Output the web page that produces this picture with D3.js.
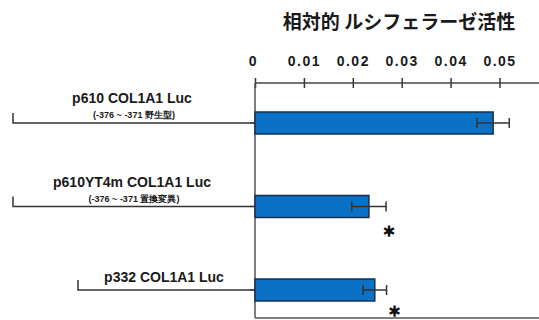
<!DOCTYPE html>
<html>
<head>
<meta charset="utf-8">
<script src="https://cdn.jsdelivr.net/npm/d3@7"></script>
<style>
  body { margin: 0; background: #fff; }
  svg { display: block; }
  text { font-family: "Liberation Sans", Arial, sans-serif; fill: #1a1a1a; }
  .title, .sig { font-family: "Noto Sans CJK JP", sans-serif; font-weight: bold; }
</style>
</head>
<body>
<svg width="539" height="320"></svg>
<script>
var constructs = ["p610 COL1A1 Luc", "p610YT4m COL1A1 Luc", "p332 COL1A1 Luc"];
var subtitles = ["(-376 ~ -371 野生型)", "(-376 ~ -371 置換変異)", ""];
var promoterLength = [610, 610, 332];
var values = [0.0487, 0.0233, 0.0245];
var errors = [0.0033, 0.0035, 0.0024];
var significant = [false, true, true];
var tickValues = [0, 0.01, 0.02, 0.03, 0.04, 0.05];
var tickLabels = ["0", "0.01", "0.02", "0.03", "0.04", "0.05"];

var svg = d3.select("svg"),
    width = +svg.attr("width"),
    height = +svg.attr("height");

var axisY = 83, bottomY = 318;

var x = d3.scaleLinear().domain([0, 0.05]).range([255, 499.5]);
var y = d3.scalePoint().domain(constructs).range([123, 290]);
// construct map: promoter length -> left end of the line
var px = d3.scaleLinear().domain([0, 610]).range([155.6, 13]);

var data = constructs.map(function (c, i) {
  return { name: c, sub: subtitles[i], len: promoterLength[i], value: values[i], err: errors[i], sig: significant[i] };
});

// title
svg.append("text").attr("class", "title")
  .attr("x", 399).attr("y", 29)
  .attr("text-anchor", "middle")
  .style("font-size", "19px")
  .text("相対的 ルシフェラーゼ活性");

// top axis
var axis = svg.append("g").attr("transform", "translate(0," + axisY + ")")
  .call(d3.axisTop(x).tickValues(tickValues).tickFormat(function (d, i) { return tickLabels[i]; }).tickSizeOuter(0));
axis.select(".domain").remove();
axis.selectAll(".tick line").attr("y1", -5).attr("y2", 5).attr("stroke", "#333").attr("stroke-width", 1.5);
axis.selectAll(".tick text").attr("y", -17).attr("dy", 0)
  .style("font-size", "14px").style("font-weight", "bold").style("letter-spacing", "1.5px")
  .attr("fill", "#1a1a1a");
axis.select(".tick text").attr("x", -2);

svg.append("line").attr("x1", x(0)).attr("x2", width).attr("y1", axisY).attr("y2", axisY)
  .attr("stroke", "#444").attr("stroke-width", 1.5);
svg.append("line").attr("x1", x(0)).attr("x2", x(0)).attr("y1", axisY).attr("y2", bottomY)
  .attr("stroke", "#555").attr("stroke-width", 1.5);
svg.append("line").attr("x1", x(0)).attr("x2", width).attr("y1", bottomY).attr("y2", bottomY)
  .attr("stroke", "#555").attr("stroke-width", 1.5);

// category ticks on the vertical axis
svg.selectAll(".ytick").data(data).enter().append("line")
  .attr("x1", x(0) - 5).attr("x2", x(0))
  .attr("y1", function (d) { return y(d.name); }).attr("y2", function (d) { return y(d.name); })
  .attr("stroke", "#555").attr("stroke-width", 1.2);

// construct lines on the left
var con = svg.selectAll(".construct").data(data).enter().append("g").attr("class", "construct");
con.append("path")
  .attr("d", function (d) {
    var yy = y(d.name), x0 = px(d.len);
    return "M" + x0 + "," + (yy - 10) + "V" + yy + "H" + x(0);
  })
  .attr("fill", "none").attr("stroke", "#333").attr("stroke-width", 1.5);
con.append("text")
  .attr("x", function (d) { return d.sub ? 132 : 164; })
  .attr("y", function (d) { return y(d.name) - (d.sub ? 20 : 8); })
  .attr("text-anchor", "middle")
  .style("font-size", "14px").style("font-weight", "bold")
  .text(function (d) { return d.name; });
con.filter(function (d) { return d.sub; }).append("text")
  .attr("x", 134)
  .attr("y", function (d) { return y(d.name) - 5; })
  .attr("text-anchor", "middle")
  .style("font-size", "9px").style("font-weight", "bold")
  .text(function (d) { return d.sub; });

// bars
var barH = 22;
svg.selectAll(".bar").data(data).enter().append("rect")
  .attr("class", "bar")
  .attr("x", x(0))
  .attr("y", function (d) { return y(d.name) - barH / 2; })
  .attr("width", function (d) { return x(d.value) - x(0); })
  .attr("height", barH)
  .attr("fill", "#0a72c6").attr("stroke", "#1b2f52").attr("stroke-width", 1.5);

// error bars
var eb = svg.selectAll(".err").data(data).enter().append("g").attr("class", "err")
  .attr("stroke", "#333").attr("stroke-width", 1.5);
eb.append("line")
  .attr("x1", function (d) { return x(d.value - d.err); })
  .attr("x2", function (d) { return x(d.value + d.err); })
  .attr("y1", function (d) { return y(d.name); }).attr("y2", function (d) { return y(d.name); });
eb.append("line")
  .attr("x1", function (d) { return x(d.value - d.err); }).attr("x2", function (d) { return x(d.value - d.err); })
  .attr("y1", function (d) { return y(d.name) - 5; }).attr("y2", function (d) { return y(d.name) + 5; });
eb.append("line")
  .attr("x1", function (d) { return x(d.value + d.err); }).attr("x2", function (d) { return x(d.value + d.err); })
  .attr("y1", function (d) { return y(d.name) - 5; }).attr("y2", function (d) { return y(d.name) + 5; });

// significance marks
svg.selectAll(".sig").data(data.filter(function (d) { return d.sig; })).enter().append("text")
  .attr("class", "sig")
  .attr("x", function (d, i) { return x(d.value + d.err) + (i === 0 ? 3 : 8); })
  .attr("y", function (d, i) { return y(d.name) + (i === 0 ? 29 : 26); })
  .attr("text-anchor", "middle")
  .style("font-size", "13px")
  .attr("fill", "#111").attr("stroke", "#111").attr("stroke-width", 1.2)
  .text("＊");
</script>
</body>
</html>
